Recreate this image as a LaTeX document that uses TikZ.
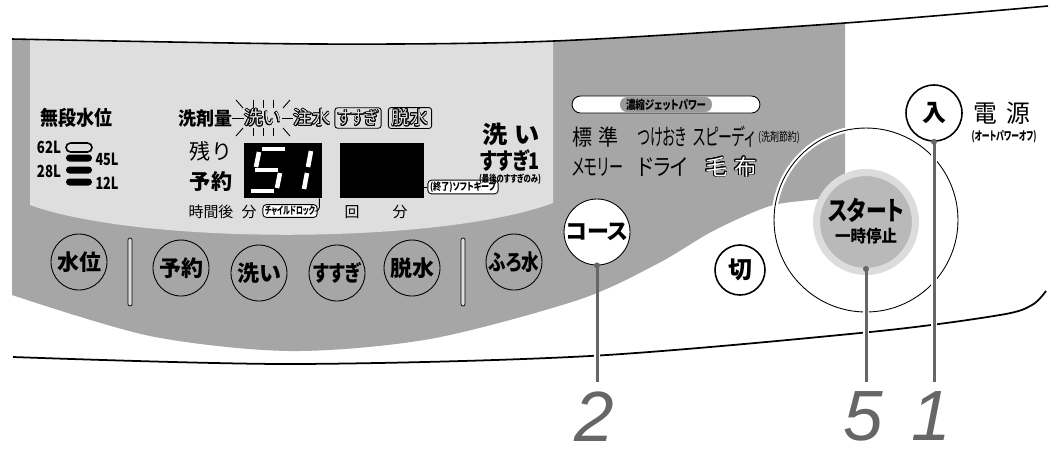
\documentclass[tikz,border=0pt]{standalone}
\usepackage{fontspec}
\usepackage[copies]{contour}
\setmainfont{Noto Sans CJK JP}
\newfontfamily\jpp{Noto Sans CJK JP}[RawFeature=+palt]
\newfontfamily\jpc{Noto Sans CJK JP}[FakeStretch=0.8,RawFeature=+palt]
\newfontfamily\numfont{Liberation Sans}
\usetikzlibrary{calc,positioning}
\definecolor{panelDark}{HTML}{A6A6A6}
\definecolor{panelLight}{HTML}{DEDEDE}
\definecolor{leaderGray}{HTML}{666666}
\definecolor{jetGray}{HTML}{9A9A9A}
\definecolor{startGray}{HTML}{B9B9B9}
\definecolor{startRing}{HTML}{DCDCDC}
\contourlength{0.4pt}
\newlength\pxu
\setlength\pxu{0.02cm}
\newcommand\outl[2]{\contour{black}{\textcolor{#1}{#2}}}
\newcommand\fsz[1]{\fontsize{#1}{#1}\selectfont}
\newcommand\fit[2]{\resizebox{#1\pxu}{\height}{#2}}

\begin{document}
\begin{tikzpicture}[x=0.02cm,y=-0.02cm,
  txt/.style={inner sep=0pt,font=\fsz{#1}},
  btxt/.style={inner sep=0pt,font=\bfseries\fsz{#1}},
  ptxt/.style={inner sep=0pt,font=\jpp\fsz{#1}},
  ctxt/.style={inner sep=0pt,font=\jpc\fsz{#1}},
  cbtxt/.style={inner sep=0pt,font=\jpc\bfseries\fsz{#1}},
  lvl/.style={inner sep=0pt,font=\jpc\bfseries\fsz{9.5}},
  btn/.style={circle,draw,line width=0.5pt,minimum size=1.12cm,inner sep=0pt,
              font=\bfseries\fsz{12.5}},
  tag/.style={draw,fill=white,rounded corners=2pt,line width=0.5pt,inner xsep=1.2pt,
              inner ysep=0.8pt,font=\jpc\bfseries\fsz{6}},
  indicator/.style={draw,rounded corners=1.5pt,line width=0.5pt,inner xsep=2pt,
              inner ysep=1pt,font=\jpc\fsz{10.3}},
  lcd/.style={fill=black,minimum height=1.1cm,inner sep=0pt},
  seg/.style={white,line width=2.6pt},
  ray/.style={line width=0.5pt},
  leader/.style={draw=leaderGray,line width=1.7pt},
  halo/.style={draw=white,line width=3.5pt},
  num/.style={inner sep=0pt,anchor=north,text=leaderGray,font=\numfont\itshape\fsz{40.5}}]

\useasboundingbox (0,0) rectangle (1058,458);

% panel faces
\fill[panelDark] plot[smooth] coordinates {(845,184) (838,194) (818,199) (770,206)
  (713,231) (657,264) (578,300) (430,339) (290,351) (150,336) (12,295)}
  -- (12,0) -- (845,0) -- cycle;
\fill[panelLight] (30,0) -- (553,0) -- (553,203) .. controls (440,245) and (140,245) .. (30,205) -- cycle;
\fill[white] (0,0) -- (1058,0) -- (1058,6) -- plot[smooth] coordinates {(1048,6) (845,23)
  (554,41) (318,44) (12,39)} -- (0,39) -- cycle;
\draw[line width=0.9pt] plot[smooth] coordinates {(12,39) (318,44) (554,41) (845,23) (1048,6)};
\draw[line width=1pt] plot[smooth] coordinates {(13,357) (290,364) (590,356) (870,332)
  (1000,315) (1032,305) (1046,291)};

% water level
\node[btxt=11.5] (levelttl) at (76,118) {\fit{72}{無段水位}};
\draw[line width=0.9pt,rounded corners=0.09cm] (66,143) rectangle (92,152);
\foreach \y in {158,170,182}
  \fill[rounded corners=0.07cm] (66,{\y-3.5}) rectangle (92,{\y+3.5});
\node[lvl] (l62) at (49,147) {\fit{24}{62L}};
\node[lvl] (l28) at (49,171) {\fit{24}{28L}};
\node[lvl] (l45) at (107,159) {\fit{23}{45L}};
\node[lvl] (l12) at (107,183) {\fit{23}{12L}};

% process row
\node[btxt=10.5] (detergent) at (205,118) {\fit{54}{洗剤量}};
\node[txt=10.5] (washind) at (263,118) {\outl{panelLight}{洗い}};
\node[txt=10.5] (fillind) at (312,118) {\outl{panelLight}{注水}};
\node[indicator] (rinseind) at (358,118) {\outl{panelLight}{すすぎ}};
\node[indicator,font=\fsz{10.3}] (spinind) at (410,118) {\outl{panelLight}{脱水}};
\draw[ray] (detergent.east) -- (washind.west);
\draw[ray] (washind.east) -- (fillind.west);
\foreach \dx in {-10,0,10} {
  \draw[ray] ($(washind.north)+(\dx,-1)$) -- ++(0,-8);
  \draw[ray] ($(washind.south)+(\dx,1)$) -- ++(0,8);
}
\draw[ray] (236,100) -- (243,108);
\draw[ray] (236,136) -- (243,128);
\draw[ray] (290,100) -- (283,108);
\draw[ray] (290,136) -- (283,128);

% timer and displays
\node[txt=12] (remain) at (211,151) {残り};
\node[btxt=12] (reserve) at (211,181) {予約};
\node[txt=8.5] (hours) at (211,212) {時間後};
\node[txt=8.5] (minA) at (249,212) {分};
\node[tag] (childlock) at (290,211) {\fit{50}{チャイルドロック}};
\node[txt=8.5] (times) at (352,212) {回};
\node[txt=8.5] (minB) at (400,212) {分};
\node[lcd,minimum width=1.56cm] (lcdA) at (283,170.5) {};
\node[lcd,minimum width=1.68cm] (lcdB) at (382,170.5) {};
\draw[seg] (262,149) -- (285,149);
\draw[seg] (259,152) -- (256,167);
\draw[seg] (255,170) -- (278,170);
\draw[seg] (280,173) -- (277,188);
\draw[seg] (251,191) -- (274,191);
\draw[seg] (311,151) -- (308,167);
\draw[seg] (307,173) -- (304,189);
\draw[ray,rounded corners=2pt] (childlock.east) -| ($(lcdA.south east)+(-3,0)$);
\node[tag,font=\jpc\bfseries\fsz{5.8}] (softkeep) at (463,187) {\fit{66}{(終了)ソフトキープ}};
\draw[ray] (lcdB.east |- softkeep.west) -- (softkeep.west);
\node[btxt=13.6] (washR) at (511,134) {\fit{58}{洗\hspace{0.3em}い}};
\node[cbtxt=13] (rinse1) at (510,160) {\fit{60}{すすぎ1}};
\node[cbtxt=5.6] (lastonly) at (510,179) {\fit{62}{(最後のすすぎのみ)}};

% courses
\node[draw,fill=white,rounded corners=0.17cm,minimum width=3.76cm,minimum height=0.34cm,
      line width=0.5pt] (jet) at (666,104.5) {};
\node[fill=jetGray,rounded corners=0.14cm,minimum width=1.84cm,minimum height=0.3cm,
      inner sep=0pt,font=\jpc\bfseries\fsz{6.8}] (jetlbl) at (jet) {\fit{80}{濃縮ジェットパワー}};
\node[txt=12.5] (standard) at (595,137) {\fit{46}{標\hspace{0.3em}準}};
\node[ctxt=13] (soak) at (662.5,137) {\fit{49}{つけおき}};
\node[ctxt=13] (speedy) at (724,137) {\fit{62}{スピーディ}};
\node[ctxt=7] (saving) at (779,137) {\fit{42}{(洗剤節約)}};
\node[ctxt=13] (memory) at (597.5,167) {\fit{51}{メモリー}};
\node[ptxt=13] (dry) at (663,167) {\fit{50}{ドライ}};
\node[txt=12.5] (blanket) at (731,167) {\fit{52}{\outl{white}{毛\hspace{0.3em}布}}};

% button row
\foreach \id/\x/\y/\lbl in {level/79/262/水位, timer/181/268/予約, wash/259/273/洗い,
    rinse/337/273/{\jpc すすぎ}, spin/412/268/脱水, bath/514/262/{\jpc ふろ水}}
  \node[btn] (b\id) at (\x,\y) {\lbl};
\foreach \x in {130,463}
  \draw[fill=panelLight,line width=0.4pt,rounded corners=0.04cm] ({\x-2},238) rectangle ({\x+2},306);

% right side buttons
\node[circle,draw,fill=white,line width=0.5pt,minimum size=1.32cm,inner sep=0pt,
      font=\jpp\bfseries\fsz{12.5}] (course) at (597,232) {コース};
\node[circle,draw,line width=0.9pt,minimum size=1cm,inner sep=0pt,
      font=\bfseries\fsz{13.6}] (off) at (740,270) {切};
\node[circle,draw,line width=0.5pt,minimum size=3.68cm,
      preaction={draw=white,line width=3pt}] (ring) at (866,220) {};
\node[circle,fill=startGray,draw=startRing,line width=4pt,minimum size=1.98cm] (start) at (866,222) {};
\node[cbtxt=15] (startlbl) at (866,210) {\fit{76}{スタート}};
\node[btxt=9.5] (pauselbl) at (866,236) {\fit{62}{一時停止}};
\node[circle,draw,line width=0.9pt,minimum size=1.12cm,inner sep=0pt,
      font=\bfseries\fsz{13.6}] (power) at (934,113) {入};
\node[txt=14,anchor=west,right=0.2cm of power] (powerlbl) {\fit{57}{電\hspace{0.4em}源}};
\node[cbtxt=6.8] (autooff) at (1004,137) {\fit{65}{(オートパワーオフ)}};

% call-out numbers
\node[num] (n2) at (594,391) {2};
\node[num] (n5) at (863,391) {5};
\node[num] (n1) at (931,391) {1};
\coordinate (e2) at ($(n2.north)+(3,-9)$);
\coordinate (e5) at ($(n5.north)+(3,-9)$);
\coordinate (e1) at ($(n1.north)+(3,-9)$);
\coordinate (d5) at ($(start.south)+(0,-6)$);
\draw[halo] ($(course.south)+(0,35)$) -- (e2);
\draw[halo] ($(d5)+(0,12)$) -- (e5);
\draw[halo] ($(power.south)+(0,6)$) -- (e1);
\draw[leader] (course.south) -- (e2);
\draw[leader] (d5) -- (e5);
\draw[leader] (power.south) -- (e1);
\foreach \d in {course.south,d5,power.south}
  \fill[leaderGray] (\d) circle[radius=0.06cm];
\end{tikzpicture}
\end{document}
